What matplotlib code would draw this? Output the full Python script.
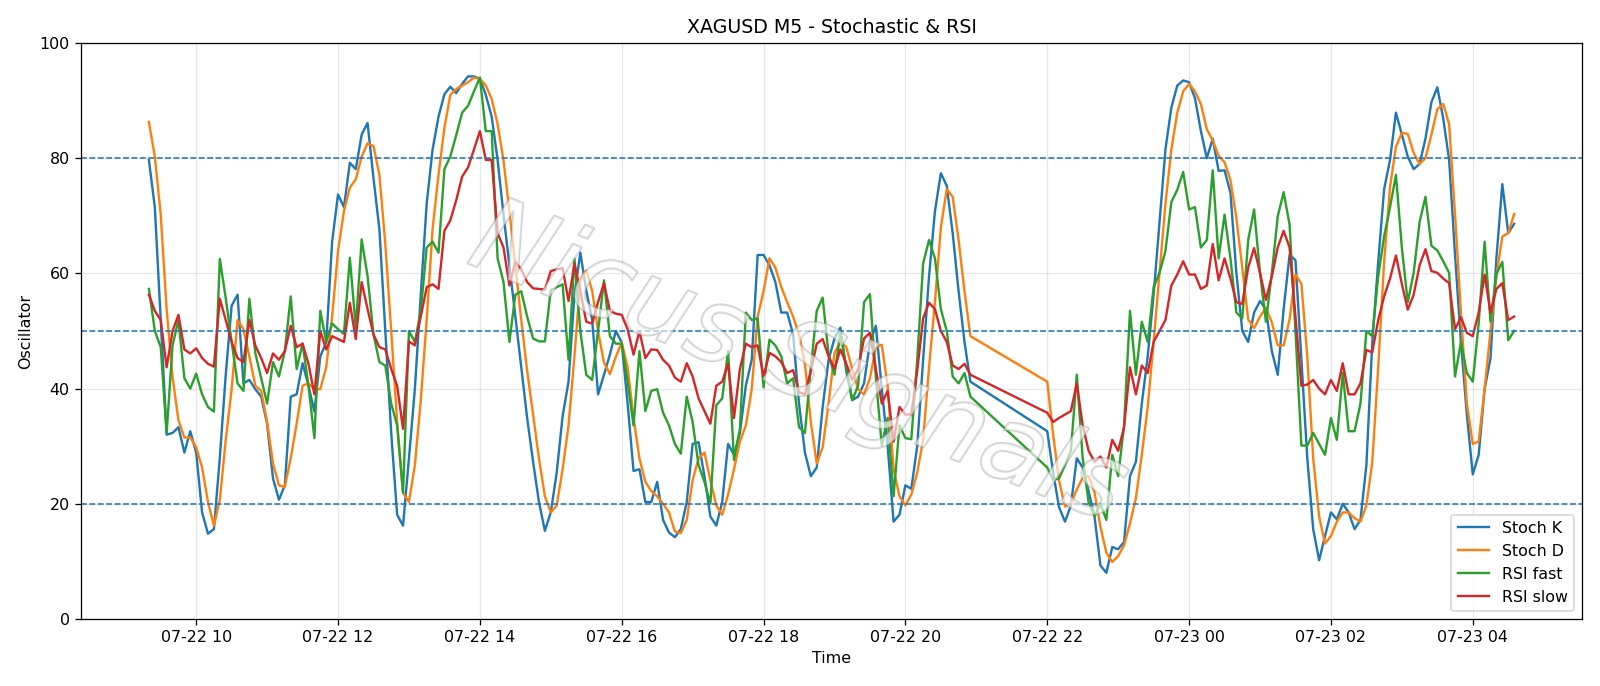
import matplotlib
matplotlib.use("Agg")
import matplotlib.pyplot as plt
import matplotlib.dates as mdates
import matplotlib.patheffects as pe
import pandas as pd

# ---- data (5-minute bars, two sessions) ----
session1_start = "2025-07-22 09:20"
session2_start = "2025-07-22 22:00"

stoch_k = [
    79.7, 71.5, 52, 32, 32.3, 33.3, 28.9, 32.6, 28.9, 18.5,
    14.8, 15.6, 28, 42.4, 54.4, 56.3, 40.9, 41.5, 39.9, 38.6,
    33.9, 24.4, 20.7, 23.2, 38.6, 39, 44.4, 40.5, 36, 45.6,
    48, 65.5, 73.7, 71.5, 79.2, 78.1, 84.1, 86.1, 76.5, 67.7,
    50, 32.3, 18.1, 16.2, 27.9, 39.9, 56.3, 72.1, 81.5, 87.2,
    91.1, 92.4, 91.3, 92.9, 94.2, 94.2, 93.8, 91, 87.2, 79.7,
    70.2, 61.4, 52.5, 43.7, 34.9, 27.3, 20.3, 15.3, 18.5, 25.4,
    35.2, 41.2, 56.3, 63.6, 57, 52, 39, 42.4, 45.9, 50,
    48, 37.4, 25.7, 26, 20.3, 20.3, 23.8, 17.2, 15, 14.2,
    15.6, 20.3, 30.4, 30.7, 24.8, 17.8, 16.2, 20.3, 30.4, 28.5,
    32.3, 40.5, 45, 63.2, 63.2, 61.4, 58.5, 53.2, 53.2, 49.4,
    37.4, 28.9, 24.8, 26.3, 36.8, 45, 48.7, 50.6, 43, 38,
    38.6, 40.9, 48, 50.9, 40, 30, 16.9, 18.1, 23.2, 22.6,
    30, 45, 59.5, 70.8, 77.4, 75.2, 67, 56.9, 48.1, 41.2,
    # session 2
    32.6, 25.4, 19.4, 16.9, 19.7, 27.9, 26.3, 22.2, 17.8, 9.3,
    8, 12.5, 12.1, 13.4, 24.8, 27.3, 37.4, 45.6, 56.3, 68.9,
    81.5, 88.8, 92.6, 93.5, 93.2, 90.4, 84.7, 80, 83.4, 77.8,
    77.9, 74, 60.1, 50, 48.1, 53.2, 55.2, 53.8, 46.5, 42.4,
    53.8, 63.2, 62.3, 45, 27.9, 15.6, 10.2, 14.4, 18.5, 17.3,
    20, 18.5, 15.6, 17.2, 26.7, 48, 62, 74.6, 79.7, 87.9,
    84.1, 80.3, 78.1, 79, 83.4, 89.7, 92.3, 86.9, 79.7, 63.2,
    48.1, 35.5, 25.1, 28.5, 39.9, 45.3, 62.6, 75.5, 67, 68.6,
]

stoch_d = [
    86.3, 80.3, 70.2, 53.8, 42, 34.5, 31.5, 31.5, 29.8, 26.3,
    20.3, 16.2, 20.7, 31.1, 39.9, 51.9, 50.3, 45.6, 40.5, 39.6,
    34.2, 27, 23.2, 22.9, 27.9, 33.9, 40.5, 40.9, 39.9, 39.9,
    43.7, 52.5, 63.9, 70.8, 74.9, 76.3, 80.3, 82.6, 82.1, 77.1,
    65.1, 50, 34.2, 21.9, 20.3, 26.7, 38, 51.9, 67.7, 77.1,
    85.3, 91, 92, 92.6, 93.2, 94, 93.8, 92.6, 90.3, 85.9,
    79.6, 70.8, 61.4, 51.9, 43.1, 35.5, 27.9, 21.3, 18.5, 19.7,
    26, 33.6, 45.6, 58.8, 60.5, 57, 50, 44.5, 42.5, 45.5,
    48, 43.7, 34.9, 27.9, 23.8, 22.2, 21.3, 20, 18.5, 15.2,
    14.9, 17.2, 24.1, 27.9, 28.9, 24.1, 19.7, 18.1, 21.6, 26,
    30.8, 33.6, 39.9, 52.5, 56.9, 62.6, 61, 57.6, 55, 52.5,
    49.4, 44.3, 34.2, 27, 29.8, 37.4, 46.2, 48.1, 47.2, 43.4,
    39.9, 39, 41.8, 47.2, 47.6, 40.5, 26, 21.3, 19.7, 21.6,
    25.4, 31.1, 43.7, 55, 68, 74.6, 73.3, 65.8, 56.9, 49.1,
    # session 2
    41.2, 32, 24, 19.5, 20, 22.5, 24.5, 24.8, 22, 16,
    11.5, 9.9, 10.9, 12.8, 16.6, 21, 28.5, 36.8, 48.1, 60.1,
    72.1, 81.5, 87.9, 91.6, 92.9, 91.6, 89.4, 85, 83.1, 80.4,
    79.3, 76.2, 69.6, 61, 52, 50.5, 52.5, 54, 51.5, 47.5,
    47.5, 52, 59.8, 58.2, 45.6, 27.9, 17.8, 13.1, 14.4, 16.9,
    18.5, 18.5, 17.5, 16.9, 19.7, 27.3, 43.7, 62, 75, 82,
    84.4, 84.2, 80.9, 79, 80, 84.1, 88.5, 89.4, 85.9, 70.2,
    53.2, 37.4, 30.4, 30.8, 39.9, 50, 59.5, 66.4, 67, 70.3,
]

rsi_fast = [
    57.3, 50, 47.2, 32.3, 47.5, 51.9, 41.8, 40, 42.6, 39,
    36.8, 36, 62.5, 55.7, 48.1, 40.9, 39.6, 55.6, 46.2, 41.8,
    37.4, 44.6, 42.1, 46.5, 56, 43.4, 47.8, 40.5, 31.4, 53.5,
    48.1, 51.3, 50.3, 49.5, 62.7, 50.6, 65.9, 59.5, 49.4, 44.6,
    44, 37.4, 33.6, 21.9, 50, 48.1, 53.5, 64.5, 65.5, 63.6,
    78.1, 80.3, 84, 87.9, 89.1, 91.6, 94, 84.7, 84.7, 62.6,
    58.5, 48.1, 56.3, 56.9, 52.5, 48.7, 48.2, 48.2, 57.1, 57.6,
    58.1, 45, 62.6, 50, 42.4, 41.5, 50, 58.8, 49.1, 47.8,
    47.8, 41.2, 33.6, 46.5, 36.1, 39.6, 39.9, 35.8, 33.6, 30.4,
    28.7, 38.6, 34.2, 26.7, 23.8, 20, 37.1, 38.3, 46.5, 27.6,
    33, 53.2, 51.9, 52.2, 40.2, 48.5, 47.5, 45.6, 40.9, 41.8,
    33.3, 32.3, 43.7, 53.5, 55.8, 45.9, 42.4, 49.7, 43.7, 38,
    40.5, 55, 56.4, 42, 30.1, 34.9, 21.3, 33.6, 31.4, 31.2,
    45, 61.7, 65.8, 62.6, 53.8, 50, 42.1, 40.9, 42.7, 38.6,
    # session 2
    26.3, 24.1, 24.4, 26.7, 29.2, 42.4, 27.9, 20.3, 17.8, 20,
    17.2, 28.5, 24.8, 33.6, 53.5, 42.4, 51.6, 48.1, 57.6, 60.1,
    63.9, 72.4, 74.5, 77.6, 71.1, 71.5, 64.5, 65.8, 77.9, 62.6,
    70.2, 62.6, 53.2, 52.2, 65.8, 71.1, 60.1, 51.6, 60, 69.9,
    74.1, 68.5, 50, 30.1, 30.1, 32.3, 30.4, 28.5, 34.9, 31.1,
    42.7, 32.6, 32.6, 37.4, 50, 49.1, 59.5, 66.4, 71.5, 77.1,
    64.5, 55, 60.1, 68.9, 73.3, 64.8, 64, 62.1, 60.1, 42.1,
    48.1, 42.7, 41.2, 51.3, 65.5, 51.6, 59.9, 62, 48.4, 50,
]

rsi_slow = [
    56.3, 53.5, 51.9, 43.7, 50, 52.8, 46.8, 46.1, 47, 45.3,
    44.3, 43.8, 55.6, 51.9, 48.1, 45.3, 44.6, 51.9, 47.5, 45.3,
    42.7, 46.1, 45, 46.5, 50.9, 47.2, 47.8, 44.3, 39, 50,
    46.8, 49.1, 48.6, 48.1, 54.9, 48.6, 58.5, 53.8, 49.4, 47.2,
    46.8, 43.4, 40.5, 33, 48.2, 47.5, 52.5, 57.6, 58.1, 57.3,
    67.4, 69.2, 72.7, 76.8, 78.4, 81.5, 84.7, 79.7, 79.7, 67,
    64.5, 57.9, 62, 60.7, 58.5, 57.4, 57.3, 57.2, 60.4, 60.7,
    60.9, 55.2, 61.7, 56.9, 51.6, 51.3, 55, 58.3, 53.5, 53,
    52.8, 50.3, 45.9, 50, 45.3, 46.8, 46.7, 45, 44, 41.9,
    41.2, 44.4, 42.1, 38.3, 36.1, 33.9, 40.5, 41.2, 44.3, 34.9,
    43.4, 47.8, 47.2, 47.5, 42.1, 46.2, 45.6, 44.6, 42.7, 43.2,
    39.4, 39, 43.1, 47.8, 48.6, 45.6, 43.4, 46.8, 44.3, 41.5,
    43.4, 48.7, 49.7, 43.4, 37.4, 39.6, 30.8, 36.8, 35.5, 35.5,
    43.1, 52.2, 54.9, 53.8, 50, 48.1, 44, 43.4, 44.3, 42.4,
    # session 2
    35.8, 34.2, 34.9, 35.5, 36.1, 40.9, 33.6, 29.2, 27.3, 28.2,
    26.3, 31.1, 29.2, 33.3, 43.7, 39, 44, 42.7, 48.1, 50,
    51.9, 57.9, 59.8, 62.1, 59.8, 59.8, 57.3, 57.9, 65.1, 58.8,
    62.6, 59.1, 55, 54.7, 61, 64.4, 60.1, 55.4, 59.5, 64.5,
    67.4, 64.5, 52.5, 40.5, 40.7, 41.5, 40, 39, 41.5, 39.6,
    44.4, 39, 39, 40.9, 46.7, 46.3, 51.9, 56, 59.1, 63.1,
    58.2, 53.7, 56.3, 61.4, 64.2, 60.4, 60.1, 59.1, 58.3, 50.3,
    52.4, 49.7, 49.1, 53.2, 59.8, 53.2, 57.3, 58.3, 51.9, 52.5,
]

n_session1 = 140
levels = [20, 50, 80]
series_labels = ["Stoch K", "Stoch D", "RSI fast", "RSI slow"]
title = "XAGUSD M5 - Stochastic & RSI"
watermark = "Nicus Signals"

# ---- time index ----
n_session2 = len(stoch_k) - n_session1
times = pd.date_range(session1_start, periods=n_session1, freq="5min").append(
    pd.date_range(session2_start, periods=n_session2, freq="5min"))

# ---- plot ----
DPI = 1600 / 14
fig = plt.figure(figsize=(14, 686.02 / DPI), dpi=DPI)
ax = fig.add_axes([0.0504, 0.0977, 0.9386, 0.8396])

for vals, lab in zip([stoch_k, stoch_d, rsi_fast, rsi_slow], series_labels):
    ax.plot(times, vals, label=lab, linewidth=1.5)

for lv in levels:
    ax.axhline(lv, color="C0", linestyle="--", linewidth=1.0)

ax.set_ylim(0, 100)
ax.set_title(title)
ax.set_xlabel("Time")
ax.set_ylabel("Oscillator")
ax.grid(True, alpha=0.3)
ax.xaxis.set_major_locator(mdates.HourLocator(byhour=range(0, 24, 2)))
ax.xaxis.set_major_formatter(mdates.DateFormatter("%m-%d %H"))
ax.legend(loc="lower right")

ax.text(0.478, 0.44, watermark, transform=ax.transAxes, rotation=-22,
        fontsize=66, color="white", alpha=0.4, style="italic",
        ha="center", va="center", zorder=5,
        path_effects=[pe.withStroke(linewidth=1.4, foreground="#8a8a8a")])

fig.savefig("out.png", dpi=DPI)
